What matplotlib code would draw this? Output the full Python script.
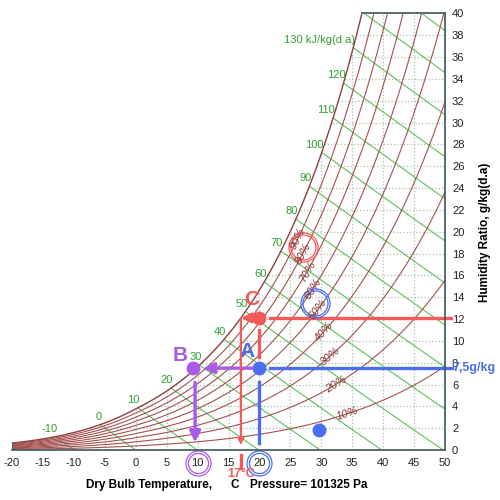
import numpy as np
import matplotlib.pyplot as plt

plt.rcParams['font.family'] = ['Liberation Sans', 'DejaVu Sans']
plt.rcParams['axes.unicode_minus'] = False

P_ATM = 101325.0

temp_ticks = list(range(-20, 55, 5))
w_ticks = list(range(0, 42, 2))
grid_temps = list(range(-15, 50, 5))
grid_ws = list(range(2, 40, 2))
rh_levels = [10, 20, 30, 40, 50, 60, 70, 80, 90]
rh_label_temps = [34.3, 32.4, 31.4, 30.4, 29.5, 28.6, 27.8, 27.0, 26.2]
enthalpy_levels = list(range(-10, 160, 10))
enthalpy_labels = list(range(-10, 140, 10))

# marked states (dry bulb C, humidity ratio g/kg)
point_a = (20, 7.5)
point_b = (9.3, 7.5)
point_c = (20, 12.1)
dew_c = 17
extra_point = (29.7, 1.85)
circled_ticks = {'B': 10, 'A': 20}
circled_rh = {'C': (27.1, 18.6), 'A': (29.0, 13.45)}

BLUE = '#4a6ef2'
RED = '#f45a5a'
PURPLE = '#a95ae6'
DARKRED = '#a3514f'
RH_TXT = '#8a3434'
GREEN = '#5cc05c'
GREEN_TXT = '#2f9e2f'
AXC = '#3c5858'


def p_sat(t):
    t = np.asarray(t, float)
    water = 610.94 * np.exp(17.625 * t / (t + 243.04))
    ice = 611.15 * np.exp(22.452 * t / (272.55 + t))
    return np.where(t >= 0, water, ice)


def humidity_ratio(t, rh):
    pv = rh / 100.0 * p_sat(t)
    return 622.0 * pv / (P_ATM - pv)


def enthalpy_w(t, h):
    return (h - 1.006 * t) / (2501 + 1.86 * t) * 1000


tt = np.linspace(-20, 50, 3000)
w_sat = humidity_ratio(tt, 100)


def sat_temp(w):
    return np.interp(w, w_sat, tt)


fig = plt.figure(figsize=(5, 5), dpi=100)
ax = fig.add_axes([0.024, 0.1, 0.866, 0.873])
ax.set_xlim(-20, 50)
ax.set_ylim(0, 40)

# dotted grid under the saturation curve
for t in grid_temps:
    ax.plot([t, t], [0, min(humidity_ratio(t, 100), 40)], ':', color='#a9c2b0', lw=0.9)
for w in grid_ws:
    ax.plot([sat_temp(w), 50], [w, w], ':', color='#a9c2b0', lw=0.9)

# enthalpy lines
for h in enthalpy_levels:
    w = enthalpy_w(tt, h)
    mask = (w <= w_sat) & (w >= 0)
    ax.plot(tt[mask], w[mask], color=GREEN, lw=0.8)
    if h in enthalpy_labels:
        ti = np.interp(0, w_sat - w, tt)
        wi = humidity_ratio(ti, 100)
        txt = '130 kJ/kg(d a)' if h == 130 else str(h)
        ax.annotate(txt, (ti, wi), xytext=(1.5, 2), textcoords='offset points',
                    ha='right', va='bottom', color=GREEN_TXT, fontsize=8)

# relative humidity curves
for rh, tl in zip(rh_levels, rh_label_temps):
    ax.plot(tt, humidity_ratio(tt, rh), color=DARKRED, lw=0.8)
    p1 = ax.transData.transform((tl - 0.3, humidity_ratio(tl - 0.3, rh)))
    p2 = ax.transData.transform((tl + 0.3, humidity_ratio(tl + 0.3, rh)))
    ang = np.degrees(np.arctan2(p2[1] - p1[1], p2[0] - p1[0]))
    ax.text(tl, humidity_ratio(tl, rh), f'{rh}%', rotation=ang, color=RH_TXT,
            fontsize=8, style='italic', ha='center', va='center', rotation_mode='anchor')
ax.plot(tt, w_sat, color='#8e3f3f', lw=1.0)

# frame
for s in ['top', 'left']:
    ax.spines[s].set_visible(False)
for s in ['right', 'bottom']:
    ax.spines[s].set_color(AXC)
    ax.spines[s].set_linewidth(1.2)
ax.plot([sat_temp(40), 50], [40, 40], color=AXC, lw=1.2, clip_on=False)
ax.plot([-20, -20], [0, humidity_ratio(-20, 100)], color=AXC, lw=1.2)
ax.yaxis.tick_right()
ax.set_xticks(temp_ticks)
ax.set_yticks(w_ticks)
ax.tick_params(length=0, labelsize=8, colors='#222222')
ax.tick_params(axis='x', pad=6)
ax.tick_params(axis='y', pad=5)

# state A
ax.plot([21.7, 51.2], [point_a[1]] * 2, color=BLUE, lw=2.4, clip_on=False)
ax.plot([point_a[0]] * 2, [6.2, 0.6], color=BLUE, lw=2.4)
ax.plot(*point_a, 'o', color=BLUE, ms=9)
ax.plot(*extra_point, 'o', color=BLUE, ms=9)
ax.text(18.0, 9.0, 'A', color=BLUE, fontsize=15, fontweight='bold', ha='center', va='center')
ax.text(51.2, point_a[1], '7,5g/kg', color=BLUE, fontsize=9, fontweight='bold',
        ha='left', va='center', clip_on=False)

# state B
ax.annotate('', xy=(10.9, point_b[1]), xytext=(18.8, point_b[1]),
            arrowprops=dict(arrowstyle='-|>', color=PURPLE, lw=2.4, mutation_scale=16,
                            shrinkA=0, shrinkB=0))
ax.annotate('', xy=(point_b[0] + 0.3, 0.7), xytext=(point_b[0] + 0.3, 6.2),
            arrowprops=dict(arrowstyle='-|>', color=PURPLE, lw=2.4, mutation_scale=16,
                            shrinkA=0, shrinkB=0))
ax.plot(*point_b, 'o', color=PURPLE, ms=9)
ax.text(7.2, 8.7, 'B', color=PURPLE, fontsize=15, fontweight='bold', ha='center', va='center')

# state C
ax.plot([21.7, 51.0], [point_c[1]] * 2, color=RED, lw=2.4, clip_on=False)
ax.plot([point_c[0]] * 2, [11.0, 8.5], color=RED, lw=2.4)
ax.annotate('', xy=(dew_c, point_c[1]), xytext=(19.0, point_c[1]),
            arrowprops=dict(arrowstyle='-|>', color=RED, lw=2.4, mutation_scale=14,
                            shrinkA=0, shrinkB=0))
ax.annotate('', xy=(dew_c, 0.45), xytext=(dew_c, point_c[1]),
            arrowprops=dict(arrowstyle='-|>', color=RED, lw=1.6, mutation_scale=9,
                            shrinkA=0, shrinkB=0))
ax.plot(*point_c, 'o', color=RED, ms=9)
ax.text(18.8, 13.8, 'C', color=RED, fontsize=15, fontweight='bold', ha='center', va='center')
ax.plot([dew_c, dew_c], [-0.45, -1.65], color=RED, lw=2.4, clip_on=False)
ax.text(dew_c, -2.2, '17°C', color=RED, fontsize=9, fontweight='bold',
        ha='center', va='center', clip_on=False)

# circled labels
for key, t in circled_ticks.items():
    c = PURPLE if key == 'B' else BLUE
    for ms in (18, 14.5):
        ax.plot(t, -1.2, 'o', mfc='none', mec=c, ms=ms, mew=0.9, clip_on=False)
for key, (t, w) in circled_rh.items():
    c = RED if key == 'C' else BLUE
    for ms in (21, 18):
        ax.plot(t, w, 'o', mfc='none', mec=c, ms=ms, mew=0.9)

fig.text(0.97, 0.536, 'Humidity Ratio, g/kg(d.a)', rotation=90, ha='center', va='center',
         fontsize=8.5, fontweight='bold')
fig.text(0.172, 0.03, 'Dry Bulb Temperature,', ha='left', va='center', fontsize=8.5,
         fontweight='bold')
fig.text(0.47, 0.03, 'C', ha='center', va='center', fontsize=8.5, fontweight='bold')
fig.text(0.5, 0.03, 'Pressure= 101325 Pa', ha='left', va='center', fontsize=8.5,
         fontweight='bold')

fig.savefig('out.png', dpi=100)
